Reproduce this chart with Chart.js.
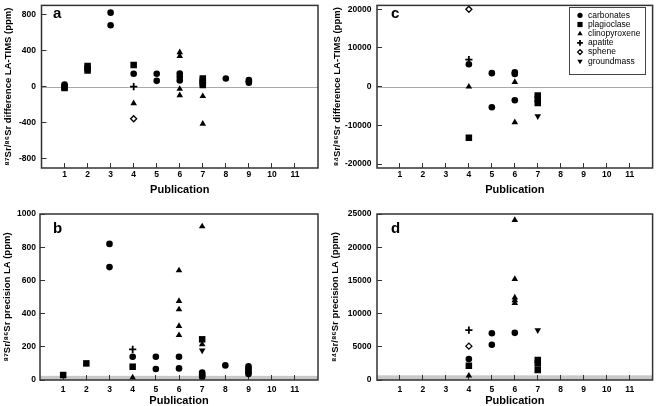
<!DOCTYPE html>
<html>
<head>
<meta charset="utf-8">
<script src="https://cdn.jsdelivr.net/npm/chart.js@4.4.1/dist/chart.umd.min.js"></script>
<style>
  html, body { margin: 0; padding: 0; background: #fff; }
  #wrap { position: relative; width: 658px; height: 406px; overflow: hidden; }
  canvas { position: absolute; }
</style>
</head>
<body>
<div id="wrap">
  <canvas id="panelA" width="329" height="200" style="left:0;top:0;width:329px;height:200px"></canvas>
  <canvas id="panelB" width="329" height="206" style="left:0;top:200px;width:329px;height:206px"></canvas>
  <canvas id="panelC" width="329" height="200" style="left:329px;top:0;width:329px;height:200px"></canvas>
  <canvas id="panelD" width="329" height="206" style="left:329px;top:200px;width:329px;height:206px"></canvas>
</div>
<script>
// Mineral groups, in legend order
const minerals = ['carbonates', 'plagioclase', 'clinopyroxene', 'apatite', 'sphene', 'groundmass'];
const mineralCode = { C: 'carbonates', P: 'plagioclase', X: 'clinopyroxene', A: 'apatite', S: 'sphene', G: 'groundmass' };
const pubTicks = [1, 2, 3, 4, 5, 6, 7, 8, 9, 10, 11];

// a: 87Sr/86Sr difference LA-TIMS (ppm)
const diff87Pub = [1, 1, 1, 2, 2, 2, 3, 3, 4, 4, 4, 4, 4, 5, 5, 6, 6, 6, 6, 6, 6, 6, 7, 7, 7, 7, 7, 7, 8, 9, 9, 9];
const diff87Val = [25, 0, -15, 230, 205, 180, 820, 680, 240, 143, 0, -185, -355, 143, 65, 380, 340, 145, 110, 70, -25, -95, 90, 65, 40, 20, -105, -410, 90, 75, 60, 45];
const diff87Min = ['C', 'P', 'P', 'P', 'P', 'P', 'C', 'C', 'P', 'C', 'A', 'X', 'S', 'C', 'C', 'X', 'X', 'C', 'C', 'C', 'X', 'X', 'P', 'P', 'P', 'P', 'X', 'X', 'C', 'C', 'C', 'C'];
const diff87Ticks = [-800, -400, 0, 400, 800];

// b: 87Sr/86Sr precision LA (ppm)
const prec87Pub = [1, 2, 3, 3, 4, 4, 4, 4, 5, 5, 6, 6, 6, 6, 6, 6, 6, 7, 7, 7, 7, 7, 7, 7, 7, 8, 9, 9, 9, 9, 9];
const prec87Val = [30, 100, 820, 680, 185, 140, 80, 15, 140, 66, 660, 475, 425, 325, 270, 140, 70, 925, 245, 215, 178, 45, 35, 25, 18, 88, 82, 70, 58, 46, 36];
const prec87Min = ['P', 'P', 'C', 'C', 'A', 'C', 'P', 'X', 'C', 'C', 'X', 'X', 'X', 'X', 'X', 'C', 'C', 'X', 'P', 'X', 'G', 'C', 'C', 'C', 'C', 'C', 'C', 'C', 'C', 'C', 'C'];
const prec87Ticks = [0, 200, 400, 600, 800, 1000];

// c: 84Sr/86Sr difference LA-TIMS (ppm)
const diff84Pub = [4, 4, 4, 4, 4, 5, 5, 6, 6, 6, 6, 6, 7, 7, 7, 7];
const diff84Val = [20000, 7000, 5800, 0, -13200, 3500, -5300, 3700, 3300, 1200, -3500, -9200, -2300, -3200, -4200, -7600];
const diff84Min = ['S', 'A', 'C', 'X', 'P', 'C', 'C', 'C', 'C', 'X', 'C', 'X', 'P', 'P', 'P', 'G'];
const diff84Ticks = [-20000, -10000, 0, 10000, 20000];

// d: 84Sr/86Sr precision LA (ppm)
const prec84Pub = [4, 4, 4, 4, 4, 5, 5, 6, 6, 6, 6, 6, 6, 7, 7, 7, 7];
const prec84Val = [7500, 5100, 3150, 2150, 650, 7050, 5300, 24100, 15200, 12400, 12000, 11600, 7100, 7500, 3000, 2500, 1500];
const prec84Min = ['A', 'S', 'C', 'P', 'X', 'C', 'C', 'X', 'X', 'X', 'X', 'X', 'C', 'G', 'P', 'P', 'P'];
const prec84Ticks = [0, 5000, 10000, 15000, 20000, 25000];

const FONT = '"Liberation Sans", Arial, "DejaVu Sans", sans-serif';

const markerStyle = {
    carbonates:    { style: 'circle',   r: 3.3, fill: '#000', bw: 0 },
    plagioclase:   { style: 'rect',     r: 4.6, fill: '#000', bw: 0 },
    clinopyroxene: { style: 'triangle', r: 3.8, fill: '#000', bw: 0 },
    apatite:       { style: 'cross',    r: 3.6, fill: '#000', bw: 1.8 },
    sphene:        { style: 'rectRot',  r: 3.0, fill: '#fff', bw: 1.3 },
    groundmass:    { style: 'triangle', r: 3.8, fill: '#000', bw: 0, rot: 180 }
};

function buildDatasets(pubs, vals, mins) {
    return minerals.map(name => {
        const pts = [];
        pubs.forEach((p, i) => {
            if (mineralCode[mins[i]] === name) pts.push({ x: p, y: vals[i] });
        });
        const st = markerStyle[name];
        return {
            label: name,
            data: pts,
            pointStyle: st.style,
            pointRadius: st.r,
            pointHoverRadius: st.r,
            pointRotation: st.rot || 0,
            pointBackgroundColor: st.fill,
            pointBorderColor: '#000',
            pointBorderWidth: st.bw
        };
    });
}

// zero line / detection band, frame, panel letter, legend
const panelDeco = {
    id: 'panelDeco',
    beforeDraw(chart, args, opts) {
        const { ctx, chartArea: a } = chart;
        const y = chart.scales.y;
        ctx.save();
        if (opts.band != null) {
            const yb = y.getPixelForValue(opts.band);
            ctx.fillStyle = '#c8c8c8';
            ctx.fillRect(a.left, yb, a.right - a.left, a.bottom - yb);
        }
        if (opts.zeroLine) {
            const y0 = Math.round(y.getPixelForValue(0)) + 0.5;
            ctx.strokeStyle = '#a8a8a8';
            ctx.lineWidth = 1;
            ctx.beginPath();
            ctx.moveTo(a.left, y0);
            ctx.lineTo(a.right, y0);
            ctx.stroke();
        }
        ctx.restore();
    },
    afterDraw(chart, args, opts) {
        const { ctx, chartArea: a } = chart;
        ctx.save();
        ctx.strokeStyle = '#333';
        ctx.lineWidth = 1.5;
        ctx.strokeRect(a.left, a.top, a.right - a.left, a.bottom - a.top);

        ctx.fillStyle = '#000';
        ctx.font = 'bold 15px ' + FONT;
        ctx.textBaseline = 'alphabetic';
        ctx.fillText(opts.letter, opts.lx, opts.ly);

        const L = opts.legend;
        if (L) {
            ctx.strokeStyle = '#444';
            ctx.lineWidth = 1;
            ctx.strokeRect(L.x + 0.5, L.y + 0.5, L.w, L.h);
            ctx.font = '8.5px ' + FONT;
            ctx.textBaseline = 'middle';
            chart.data.datasets.forEach((ds, i) => {
                const cy = L.y + L.first + i * L.step;
                ctx.fillStyle = ds.pointBackgroundColor;
                ctx.strokeStyle = '#000';
                ctx.lineWidth = ds.pointBorderWidth;
                Chart.helpers.drawPoint(ctx, {
                    pointStyle: ds.pointStyle,
                    rotation: ds.pointRotation,
                    radius: ds.pointRadius * 0.8,
                    borderWidth: ds.pointBorderWidth
                }, L.x + L.mx, cy);
                ctx.fillStyle = '#000';
                ctx.fillText(ds.label, L.x + L.tx, cy);
            });
        }
        ctx.restore();
    }
};

function makePanel(id, cfg) {
    const tickFont = { family: FONT, size: 8.5, weight: 'bold' };
    return new Chart(document.getElementById(id), {
        type: 'scatter',
        data: { datasets: buildDatasets(cfg.pubs, cfg.vals, cfg.mins) },
        options: {
            responsive: false,
            animation: false,
            devicePixelRatio: 1,
            layout: { padding: cfg.pad },
            plugins: {
                legend: { display: false },
                tooltip: { enabled: false },
                panelDeco: { letter: cfg.letter, lx: cfg.lx, ly: cfg.ly, zeroLine: cfg.zeroLine, band: cfg.band, legend: cfg.legend }
            },
            scales: {
                x: {
                    type: 'linear',
                    min: 0,
                    max: 12,
                    afterBuildTicks: s => { s.ticks = pubTicks.map(v => ({ value: v })); },
                    afterFit: s => { s.height = cfg.xh; s.paddingLeft = 0; s.paddingRight = 0; },
                    border: { display: false },
                    grid: { drawOnChartArea: false, drawTicks: true, tickLength: -5, color: '#333', lineWidth: 1 },
                    ticks: { font: tickFont, color: '#000', padding: cfg.xpad, maxRotation: 0, autoSkip: false, callback: v => String(v) },
                    title: { display: true, text: 'Publication', color: '#000', font: { family: FONT, size: 11, weight: 'bold', lineHeight: 1.2 }, padding: { top: 0, bottom: cfg.xtpad } }
                },
                y: {
                    type: 'linear',
                    min: cfg.ymin,
                    max: cfg.ymax,
                    afterBuildTicks: s => { s.ticks = cfg.yticks.map(v => ({ value: v })); },
                    afterFit: s => { s.width = cfg.yw; s.paddingTop = 0; s.paddingBottom = 0; },
                    border: { display: false },
                    grid: { drawOnChartArea: false, drawTicks: true, tickLength: -5, color: '#333', lineWidth: 1 },
                    ticks: { font: tickFont, color: '#000', padding: cfg.ypad, autoSkip: false, callback: v => String(v) },
                    title: { display: true, text: cfg.ytitle, color: '#000', font: { family: FONT, size: 9.5, weight: 'bold', lineHeight: 1.2 }, padding: { top: cfg.ytpad, bottom: 0 } }
                }
            }
        },
        plugins: [panelDeco]
    });
}

makePanel('panelA', {
    pubs: diff87Pub, vals: diff87Val, mins: diff87Min, yticks: diff87Ticks,
    ymin: -900, ymax: 900, ytitle: '⁸⁷Sr/⁸⁶Sr difference LA-TIMS (ppm)',
    pad: { left: 0, top: 1, right: 11, bottom: 0 }, yw: 41.5, xh: 32,
    xpad: 7, ypad: 10.5, ytpad: 3, xtpad: 3.5,
    letter: 'a', lx: 53, ly: 18, zeroLine: true
});

makePanel('panelB', {
    pubs: prec87Pub, vals: prec87Val, mins: prec87Min, yticks: prec87Ticks,
    ymin: 0, ymax: 1000, ytitle: '⁸⁷Sr/⁸⁶Sr precision LA (ppm)',
    pad: { left: 0, top: 14, right: 11, bottom: 0 }, yw: 40, xh: 26,
    xpad: 10, ypad: 9, ytpad: 1.5, xtpad: -2,
    letter: 'b', lx: 53, ly: 33, band: 25
});

makePanel('panelC', {
    pubs: diff84Pub, vals: diff84Val, mins: diff84Min, yticks: diff84Ticks,
    ymin: -21000, ymax: 21000, ytitle: '⁸⁴Sr/⁸⁶Sr difference LA-TIMS (ppm)',
    pad: { left: 0, top: 1, right: 2, bottom: 0 }, yw: 48, xh: 32,
    xpad: 7, ypad: 10.6, ytpad: 2.3, xtpad: 3.5,
    letter: 'c', lx: 62, ly: 18, zeroLine: true,
    legend: { x: 240, y: 7, w: 76, h: 67, mx: 11, tx: 19, first: 8.3, step: 9.2 }
});

makePanel('panelD', {
    pubs: prec84Pub, vals: prec84Val, mins: prec84Min, yticks: prec84Ticks,
    ymin: 0, ymax: 25000, ytitle: '⁸⁴Sr/⁸⁶Sr precision LA (ppm)',
    pad: { left: 0, top: 14, right: 2, bottom: 0 }, yw: 48, xh: 26,
    xpad: 10, ypad: 10.6, ytpad: 0.6, xtpad: -2,
    letter: 'd', lx: 62, ly: 33, band: 700
});
</script>
</body>
</html>
